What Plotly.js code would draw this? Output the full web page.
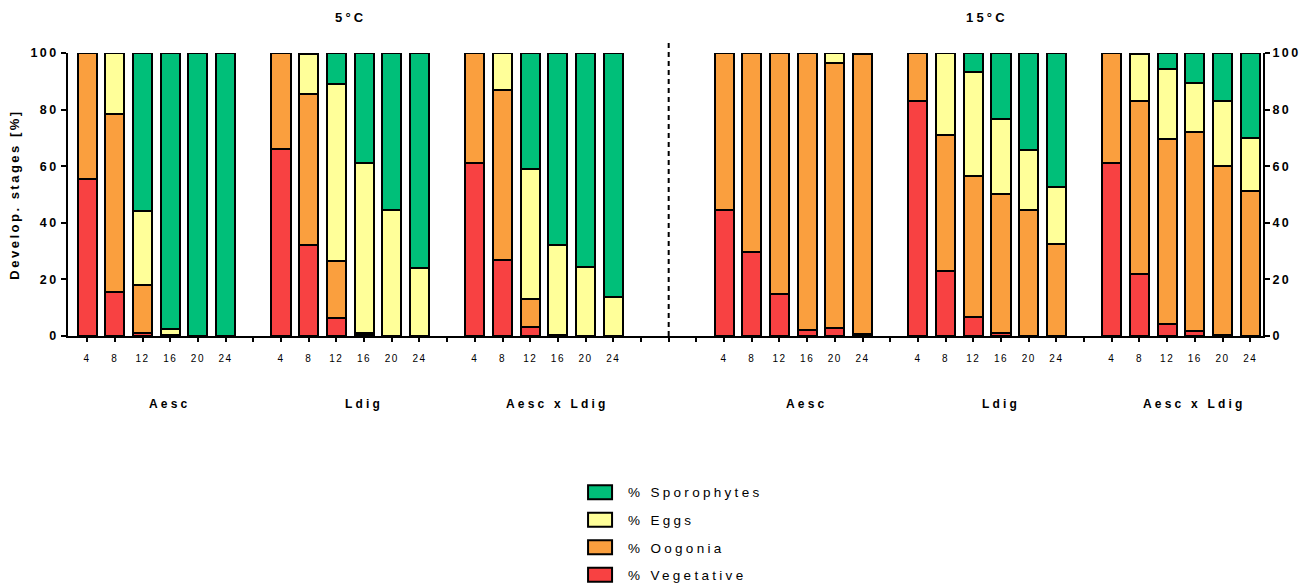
<!DOCTYPE html>
<html>
<head>
<meta charset="utf-8">
<script src="https://cdn.plot.ly/plotly-3.0.1.min.js"></script>
<style>
  html, body { margin: 0; padding: 0; background: #fff; }
  #chart { width: 1316px; height: 586px; }
  .ytick text, .y2tick text { letter-spacing: 2.4px; }
  .xtick text { letter-spacing: 1.5px; }
  .annotation-text { letter-spacing: 3.2px; }
  .legendtext { letter-spacing: 3.3px; }
  .ytitle { letter-spacing: 2.5px; }
</style>
</head>
<body>
<div id="chart"></div>
<script>
// ---- data ----
const temperatures = ['5°C', '15°C'];
const groups = ['Aesc', 'Ldig', 'Aesc x Ldig'];
const times = [4, 8, 12, 16, 20, 24];
const seriesNames = ['% Vegetative', '% Oogonia', '% Eggs', '% Sporophytes'];

// order: 5°C Aesc, 5°C Ldig, 5°C Aesc x Ldig, 15°C Aesc, 15°C Ldig, 15°C Aesc x Ldig ; each times 4..24
const vegetative = [
  55.5, 15.4, 1.1, 0, 0, 0,
  66.0, 32.3, 6.3, 0.3, 0, 0,
  61.3, 26.9, 3.3, 0, 0, 0,
  44.7, 29.8, 14.7, 2.1, 2.7, 0.7,
  83.0, 23.1, 6.8, 1.2, 0, 0,
  61.3, 21.9, 4.4, 1.9, 0.3, 0
];
const oogonia = [
  44.5, 63.1, 16.9, 0.4, 0, 0,
  34.0, 53.3, 20.1, 0.7, 0, 0,
  38.7, 60.2, 9.6, 0.5, 0, 0,
  55.3, 70.2, 85.3, 97.9, 93.8, 98.8,
  17.0, 48.0, 49.7, 49.0, 44.7, 32.5,
  38.7, 61.1, 65.2, 70.2, 59.8, 51.2
];
const eggs = [
  0, 21.5, 26.3, 2.0, 0, 0,
  0, 13.9, 62.8, 60.1, 44.6, 23.9,
  0, 12.9, 46.2, 31.5, 24.5, 13.9,
  0, 0, 0, 0, 3.5, 0.5,
  0, 28.9, 36.7, 26.6, 21.1, 20.0,
  0, 16.5, 24.9, 17.4, 22.9, 18.7
];
const sporophytes = [
  0, 0, 55.7, 97.6, 100, 100,
  0, 0.5, 10.8, 38.9, 55.4, 76.1,
  0, 0, 40.9, 68.0, 75.5, 86.1,
  0, 0, 0, 0, 0, 0,
  0, 0, 6.8, 23.2, 34.2, 47.5,
  0, 0.5, 5.5, 10.5, 17.0, 30.1
];
const yTicks = [0, 20, 40, 60, 80, 100];

// ---- styles ----
const colors = ['#F84142', '#FA9F3E', '#FFFF99', '#00BF79'];
const FONT = 'Liberation Sans, Arial, sans-serif';

// slot positions: one empty slot between groups, two around the temperature divider
const groupStart = [];
let s = 0;
let dividerSlot = 0;
for (let t = 0; t < temperatures.length; t++) {
  for (let g = 0; g < groups.length; g++) {
    groupStart.push(s);
    s += times.length + 1;
  }
  if (t === 0) { dividerSlot = s; s += 2; }
}
const lastSlot = s - 2;
const xPos = [];
const tickVals = [];
const tickText = [];
groupStart.forEach(g0 => times.forEach((tm, i) => xPos.push(g0 + i)));
for (let k = 0; k <= lastSlot; k++) {
  tickVals.push(k);
  const idx = xPos.indexOf(k);
  tickText.push(idx >= 0 ? String(times[idx % times.length]) : '');
}

const seriesValues = [vegetative, oogonia, eggs, sporophytes];
const traces = seriesValues.map((vals, j) => ({
  type: 'bar',
  x: xPos,
  y: vals,
  name: seriesNames[j],
  legendgroup: 'g' + j,
  legendrank: seriesValues.length - j,
  width: 0.69,
  marker: { color: colors[j], line: { color: '#000', width: 2 } },
  cliponaxis: false,
  hoverinfo: 'x+y+name'
}));
traces.push({ type: 'scatter', x: [], y: [], yaxis: 'y2', showlegend: false, hoverinfo: 'skip' });

// annotations: group labels and temperature titles
const annotations = [];
groupStart.forEach((g0, k) => {
  annotations.push({
    xref: 'x', yref: 'paper', x: g0 + times.length / 2, y: -0.24,
    xanchor: 'center', yanchor: 'middle',
    text: groups[k % groups.length], showarrow: false,
    font: { family: FONT, size: 12, color: '#000', weight: 'bold' }
  });
});
temperatures.forEach((tname, t) => {
  const a = groupStart[t * 3], b = groupStart[t * 3 + 2] + times.length - 1;
  annotations.push({
    xref: 'x', yref: 'paper', x: (a + b) / 2, y: 1.124,
    xanchor: 'center', yanchor: 'middle',
    text: tname, showarrow: false,
    font: { family: FONT, size: 13, color: '#000', weight: 'bold' }
  });
});

const yAxisCommon = {
  range: [0, 100],
  tickvals: yTicks,
  ticks: 'outside', ticklen: 5, tickwidth: 2, tickcolor: '#000',
  showline: true, linewidth: 2, linecolor: '#000',
  showgrid: false, zeroline: false,
  tickfont: { family: FONT, size: 12.5, color: '#000', weight: 'bold' },
  fixedrange: true
};

const layout = {
  width: 1316, height: 586,
  margin: { l: 68, r: 53, t: 53, b: 250, autoexpand: false },
  paper_bgcolor: '#fff', plot_bgcolor: '#fff',
  barmode: 'stack',
  showlegend: true,
  legend: {
    x: 0.4285, xanchor: 'left', y: -0.498, yanchor: 'top',
    traceorder: 'grouped', tracegroupgap: 7,
    font: { family: FONT, size: 13.5, color: '#000' },
    bgcolor: 'rgba(0,0,0,0)', itemwidth: 38
  },
  xaxis: {
    range: [-0.69, lastSlot + 0.46],
    tickvals: tickVals, ticktext: tickText,
    ticks: 'outside', ticklen: 4, tickwidth: 2, tickcolor: '#000',
    showline: true, linewidth: 2, linecolor: '#000',
    showgrid: false, zeroline: false,
    tickfont: { family: FONT, size: 10, color: '#000' },
    ticklabelstandoff: 8,
    fixedrange: true
  },
  yaxis: Object.assign({}, yAxisCommon, {
    title: { text: 'Develop. stages [%]', font: { family: FONT, size: 13, color: '#000', weight: 'bold' }, standoff: 8 }
  }),
  yaxis2: Object.assign({}, yAxisCommon, { overlaying: 'y', side: 'right' }),
  shapes: [{
    type: 'line', xref: 'x', yref: 'paper',
    x0: dividerSlot, x1: dividerSlot, y0: 0, y1: 1.04,
    line: { color: '#000', width: 2, dash: '5px,4px' }
  }],
  annotations: annotations
};

Plotly.newPlot('chart', traces, layout, { displayModeBar: false }).then(() => {
  // widen legend swatches to match the reference
  document.querySelectorAll('.legend .traces').forEach(tr => {
    const txt = tr.querySelector('.legendtext');
    const tx = txt ? parseFloat(txt.getAttribute('x')) : 48;
    tr.querySelectorAll('.legendpoints path').forEach(p => {
      p.setAttribute('d', 'M12,7H-12V-7H12Z');
      p.setAttribute('transform', 'translate(' + (tx - 28) + ',0)');
    });
  });
});
</script>
</body>
</html>
